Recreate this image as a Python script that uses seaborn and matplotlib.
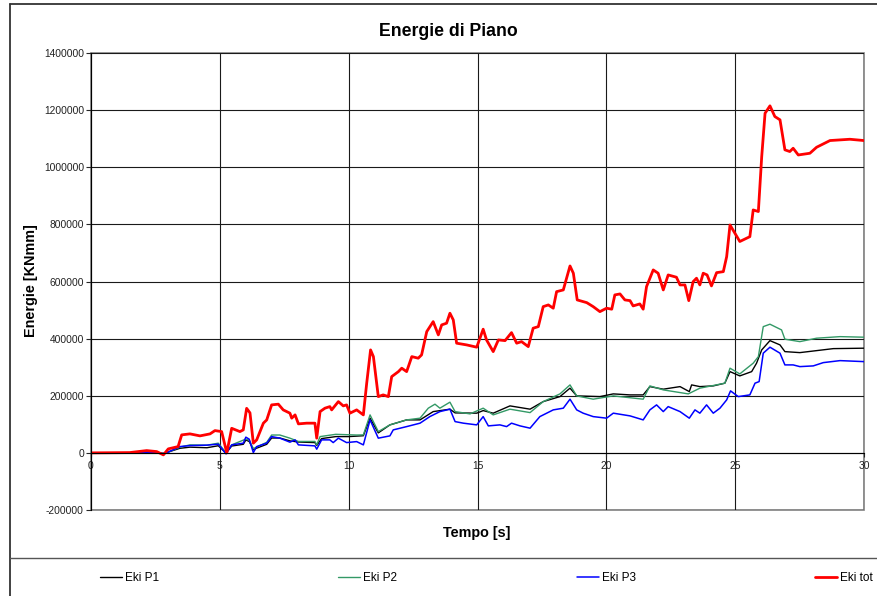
import matplotlib
matplotlib.use("Agg")
import matplotlib.pyplot as plt
from matplotlib.lines import Line2D
from matplotlib.patches import Rectangle
import seaborn as sns

# time [s] / energy [KNmm], one pair of lists per series
t_p1 = [0, 1.5, 2.5, 2.81, 3.0, 3.45, 3.84, 4.5, 4.94, 5.24,
        5.46, 5.91, 6.01, 6.14, 6.30, 6.82, 7.01, 7.33, 7.72, 8.05,
        8.69, 8.76, 8.95, 9.5, 10.0, 10.57, 10.83, 11.15, 11.60, 12.25,
        12.77, 13.28, 13.93, 14.13, 14.97, 15.22, 15.61, 16.26, 17.04, 17.55,
        18.20, 18.59, 18.85, 19.75, 20.27, 20.92, 21.43, 21.69, 22.21, 22.86,
        23.22, 23.31, 23.63, 24.15, 24.60, 24.80, 25.18, 25.64, 25.83, 26.03,
        26.35, 26.74, 26.93, 27.51, 28.16, 28.81, 30.0]
e_p1 = [0, 0, 2000, -2000, 3000, 16000, 20000, 18000, 25000, -1000,
        24000, 30000, 45000, 40000, 12000, 30000, 52000, 52000, 42000, 38000,
        36000, 26000, 50000, 57000, 57000, 60000, 121500, 70000, 98000, 115500,
        115500, 144500, 153000, 140000, 139000, 148000, 139000, 164500, 153000, 179500,
        197000, 226500, 199500, 197000, 206500, 203000, 203000, 232000, 223000, 232000,
        214500, 238000, 232000, 234500, 244000, 284500, 269500, 284500, 314000, 360500,
        393000, 378000, 354500, 351000, 358000, 365000, 366500]

t_p2 = [0, 1.5, 2.5, 2.81, 3.0, 3.45, 3.84, 4.5, 4.94, 5.24,
        5.46, 6.0, 6.14, 6.30, 6.82, 7.01, 7.33, 7.72, 8.05, 8.69,
        8.76, 8.89, 9.5, 10.31, 10.57, 10.83, 11.15, 11.60, 12.25, 12.77,
        13.09, 13.35, 13.54, 13.93, 14.13, 14.71, 15.22, 15.61, 16.26, 17.04,
        17.55, 18.20, 18.59, 18.85, 19.49, 20.27, 21.43, 21.69, 22.21, 23.18,
        23.63, 24.60, 24.80, 25.18, 25.70, 25.90, 26.09, 26.35, 26.80, 26.93,
        27.51, 28.16, 29.07, 30.0]
e_p2 = [0, 0, 2000, -2000, 3000, 20000, 28000, 27000, 34000, 1000,
        28000, 48000, 45000, 15000, 37000, 62500, 62500, 51500, 40000, 40000,
        28000, 57000, 65000, 62500, 63000, 133000, 74500, 98000, 115500, 121500,
        156500, 170500, 156500, 177500, 144500, 136500, 156500, 133000, 153000, 141000,
        179500, 206500, 238000, 199500, 188000, 199500, 188000, 234500, 220500, 206500,
        226500, 244000, 296500, 276500, 314000, 337000, 442000, 450500, 430500, 398000,
        389500, 401500, 407000, 405000]

t_p3 = [0, 1.5, 2.5, 2.81, 3.0, 3.45, 3.84, 4.5, 4.94, 5.24,
        5.46, 5.91, 6.01, 6.14, 6.30, 6.43, 6.82, 7.01, 7.33, 7.72,
        7.92, 8.05, 8.69, 8.76, 8.95, 9.27, 9.40, 9.60, 9.92, 10.31,
        10.57, 10.83, 11.15, 11.60, 11.73, 12.25, 12.77, 13.15, 13.54, 13.93,
        14.13, 14.45, 14.97, 15.22, 15.42, 15.87, 16.13, 16.32, 16.65, 17.04,
        17.42, 17.94, 18.33, 18.59, 18.85, 19.10, 19.49, 20.01, 20.27, 20.92,
        21.43, 21.69, 21.95, 22.21, 22.40, 22.86, 23.22, 23.44, 23.63, 23.89,
        24.15, 24.41, 24.67, 24.82, 25.12, 25.57, 25.77, 25.93, 26.09, 26.35,
        26.74, 26.93, 27.25, 27.51, 28.03, 28.42, 29.07, 30.0]
e_p3 = [0, 0, 2000, -3000, 3000, 22000, 25500, 27000, 30500, -3500,
        28000, 34000, 55000, 48000, 1000, 22000, 34000, 57000, 51500, 37500,
        45500, 28000, 24500, 13000, 45500, 45500, 36000, 51500, 36000, 39500,
        28000, 115500, 51500, 59500, 80500, 92000, 104000, 127000, 144500, 153000,
        109500, 104000, 98000, 127000, 94500, 98000, 92000, 104000, 94500, 86500,
        127000, 150500, 156500, 188000, 150500, 139000, 127000, 121500, 139000, 129500,
        115500, 150500, 168000, 144500, 162000, 144500, 121500, 150500, 139000, 168000,
        139000, 156500, 185500, 217000, 197000, 203000, 244000, 249500, 349000, 370000,
        349000, 308000, 308000, 302000, 304500, 316000, 323000, 319500]

t_tot = [0, 1.5, 2.16, 2.55, 2.81, 3.0, 3.38, 3.52, 3.84, 4.23,
         4.62, 4.81, 5.07, 5.27, 5.46, 5.78, 5.91, 6.04, 6.17, 6.30,
         6.43, 6.69, 6.82, 7.01, 7.27, 7.46, 7.72, 7.79, 7.92, 8.05,
         8.37, 8.69, 8.76, 8.89, 9.08, 9.27, 9.34, 9.60, 9.79, 9.92,
         10.05, 10.31, 10.57, 10.70, 10.85, 10.96, 11.15, 11.34, 11.54, 11.67,
         11.93, 12.06, 12.25, 12.45, 12.70, 12.83, 13.03, 13.28, 13.48, 13.61,
         13.80, 13.93, 14.06, 14.19, 14.58, 14.97, 15.22, 15.35, 15.61, 15.81,
         16.07, 16.32, 16.52, 16.71, 16.97, 17.16, 17.36, 17.55, 17.75, 17.94,
         18.07, 18.33, 18.59, 18.72, 18.87, 19.24, 19.49, 19.75, 20.01, 20.21,
         20.33, 20.53, 20.72, 20.92, 21.04, 21.30, 21.43, 21.56, 21.82, 22.01,
         22.21, 22.40, 22.72, 22.86, 23.05, 23.20, 23.37, 23.50, 23.63, 23.76,
         23.91, 24.08, 24.28, 24.54, 24.67, 24.80, 24.99, 25.18, 25.57, 25.70,
         25.90, 26.03, 26.16, 26.35, 26.54, 26.74, 26.93, 27.12, 27.25, 27.45,
         27.90, 28.16, 28.68, 29.45, 30.0]
e_tot = [0, 1000, 8000, 4500, -7000, 14000, 22000, 63000, 66500, 59500,
         66500, 78000, 74500, 0, 86000, 74500, 80500, 156000, 140000, 34000,
         45500, 104000, 115500, 168000, 170500, 150500, 139000, 121500, 133000, 101500,
         104000, 104000, 51500, 144500, 156500, 162000, 150500, 179500, 164500, 168000,
         139000, 150500, 133000, 244000, 360500, 337000, 197000, 203000, 197000, 267000,
         284500, 296500, 284500, 337000, 331500, 343000, 424500, 459500, 413000, 448000,
         454000, 489000, 465500, 384000, 378000, 370000, 433000, 395500, 354500, 395500,
         393000, 421000, 384000, 389500, 372000, 436500, 442000, 512000, 518000, 506500,
         564500, 570500, 654500, 629000, 535500, 526000, 512000, 494500, 506500, 503000,
         553000, 556500, 535500, 533000, 514500, 521500, 503000, 582000, 640500, 629000,
         570500, 623000, 615000, 588000, 588000, 533000, 599500, 611500, 588000, 629000,
         623000, 584500, 631000, 634500, 687000, 798000, 769000, 740000, 757000, 850500,
         845000, 1037000, 1189000, 1215000, 1177500, 1166000, 1061000, 1055000, 1066500, 1043000,
         1049000, 1070000, 1093500, 1098000, 1093500]

series_names = ["Eki P1", "Eki P2", "Eki P3", "Eki tot"]
x_ticks = [0, 5, 10, 15, 20, 25, 30]
x_tick_labels = ["0", "5", "10", "15", "20", "25", "30"]
y_ticks = [-200000, 0, 200000, 400000, 600000, 800000, 1000000, 1200000, 1400000]
y_tick_labels = ["-200000", "0", "200000", "400000", "600000", "800000",
                 "1000000", "1200000", "1400000"]

sns.set_style("white")
plt.rcParams["font.family"] = ["Liberation Sans", "DejaVu Sans"]
plt.rcParams["text.color"] = "black"

W, H = 877, 596
fig = plt.figure(figsize=(W / 100, H / 100), dpi=100)
ax = fig.add_axes([91 / W, 1 - 510 / H, 773 / W, 457 / H])

styles = [("#000000", 1.0), ("#339966", 1.0), ("#0000ff", 1.1), ("#ff0000", 2.0)]
data = [(t_p1, e_p1), (t_p2, e_p2), (t_p3, e_p3), (t_tot, e_tot)]
for name, (t, e), (col, lw) in zip(series_names, data, styles):
    sns.lineplot(x=t, y=e, ax=ax, color=col, linewidth=lw, label=name,
                 estimator=None, sort=False)

handles, labels = ax.get_legend_handles_labels()
if ax.get_legend() is not None:
    ax.get_legend().remove()

ax.set_xlim(0, 30)
ax.set_ylim(-200000, 1400000)
ax.set_xticks(x_ticks)
ax.set_xticklabels(x_tick_labels)
ax.set_yticks(y_ticks)
ax.set_yticklabels(y_tick_labels)
ax.set_xlabel("")
ax.set_ylabel("")
ax.grid(True, color="#1a1a1a", linewidth=0.8)
ax.set_axisbelow(True)

# excel style: category axis crosses at zero
ax.spines["bottom"].set_position(("data", 0))
for s in ["left", "bottom"]:
    ax.spines[s].set_color("#000000")
    ax.spines[s].set_linewidth(0.8)
for s in ["top", "right"]:
    ax.spines[s].set_visible(False)
ax.add_patch(Rectangle((0, 0), 1, 1, transform=ax.transAxes, fill=False,
                       edgecolor="#808080", linewidth=1.2, clip_on=False, zorder=0.5))

ax.tick_params(axis="y", direction="out", length=3.6, width=0.8, pad=1.5,
               labelsize=7.4, labelcolor="#222222", left=True)
ax.tick_params(axis="x", direction="out", length=3, width=0.8, pad=3,
               labelsize=7.4, labelcolor="#222222", bottom=True)

fig.text(448 / W, 1 - 31 / H, "Energie di Piano", ha="center", va="center",
         fontsize=12.7, fontweight="bold", color="black")
fig.text(477 / W, 1 - 533 / H, "Tempo [s]", ha="center", va="center",
         fontsize=10.4, fontweight="bold", color="black")
fig.text(31 / W, 1 - 281 / H, "Energie [KNmm]", ha="center", va="center",
         rotation=90, fontsize=10.4, fontweight="bold", color="black")

# chart frame (cut off at right and bottom) and legend separator
fig.add_artist(Line2D([10 / W, 10 / W], [0, 1 - 4 / H], transform=fig.transFigure,
                      color="#333333", linewidth=1.3))
fig.add_artist(Line2D([10 / W, 1], [1 - 4 / H, 1 - 4 / H], transform=fig.transFigure,
                      color="#333333", linewidth=1.3))
fig.add_artist(Line2D([10 / W, 1], [1 - 558 / H, 1 - 558 / H], transform=fig.transFigure,
                      color="#555555", linewidth=1.0))

leg = fig.legend(handles, labels, loc="center left", bbox_to_anchor=(100 / W, 1 - 578 / H),
                 ncol=4, frameon=False, fontsize=8.5, handlelength=1.86, handletextpad=0.25,
                 columnspacing=15.2, borderpad=0, borderaxespad=0)
for txt in leg.get_texts():
    txt.set_color("black")

fig.savefig("out.png", dpi=100)
